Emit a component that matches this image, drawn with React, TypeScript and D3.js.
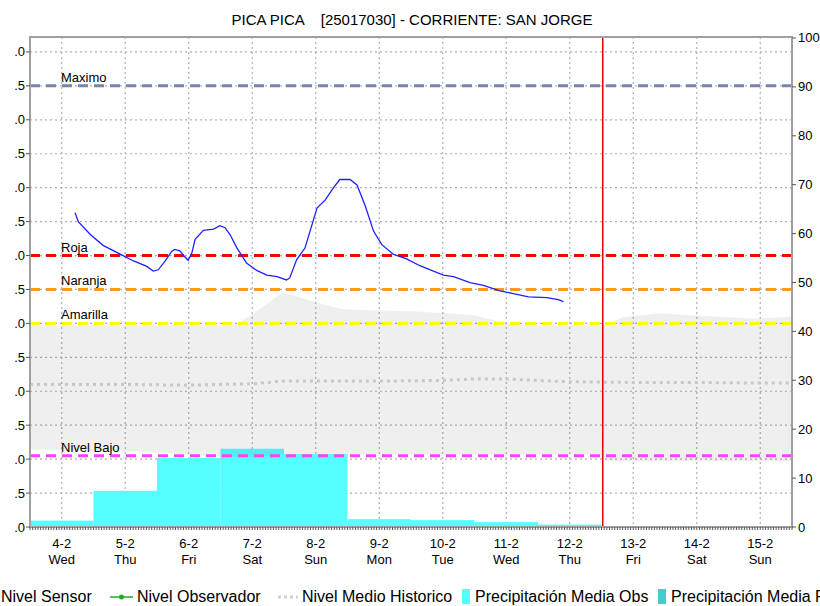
import React from "react";
import * as d3 from "d3";

const title = "PICA PICA    [25017030] - CORRIENTE: SAN JORGE";
const dayTicks = [4, 5, 6, 7, 8, 9, 10, 11, 12, 13, 14, 15];
const dayLabels = ["4-2", "5-2", "6-2", "7-2", "8-2", "9-2", "10-2", "11-2", "12-2", "13-2", "14-2", "15-2"];
const weekdayLabels = ["Wed", "Thu", "Fri", "Sat", "Sun", "Mon", "Tue", "Wed", "Thu", "Fri", "Sat", "Sun"];
const levelTicks = [0, 0.5, 1, 1.5, 2, 2.5, 3, 3.5, 4, 4.5, 5, 5.5, 6, 6.5, 7];
const precipTicks = [0, 10, 20, 30, 40, 50, 60, 70, 80, 90, 100];

const sensorDays = [4.21, 4.26, 4.45, 4.65, 4.92, 5.13, 5.34, 5.44, 5.52, 5.63, 5.73, 5.78, 5.86, 5.93, 5.99, 6.05, 6.1, 6.23, 6.39, 6.49, 6.57, 6.65, 6.76, 6.91, 7.07, 7.23, 7.39, 7.54, 7.59, 7.7, 7.83, 8.02, 8.15, 8.28, 8.38, 8.54, 8.65, 8.78, 8.91, 9.04, 9.22, 9.43, 9.64, 10.01, 10.17, 10.43, 10.64, 10.9, 11.11, 11.35, 11.64, 11.82, 11.9];
const sensorLevels = [4.63, 4.5, 4.31, 4.15, 4.02, 3.92, 3.84, 3.77, 3.79, 3.92, 4.06, 4.09, 4.07, 3.99, 3.93, 4.04, 4.24, 4.37, 4.39, 4.44, 4.41, 4.31, 4.11, 3.89, 3.78, 3.71, 3.69, 3.64, 3.67, 3.94, 4.11, 4.7, 4.82, 5.0, 5.12, 5.12, 5.04, 4.73, 4.36, 4.16, 4.02, 3.95, 3.85, 3.71, 3.69, 3.6, 3.56, 3.48, 3.44, 3.39, 3.38, 3.35, 3.32];

const precipDays = [4, 5, 6, 7, 8, 9, 10, 11, 12];
const precipValues = [1.3, 7.4, 14.1, 16.0, 14.9, 1.6, 1.4, 1.0, 0.5];

const bandDays = [3.5, 4.5, 5.5, 6.5, 6.7, 7.0, 7.48, 8.0, 8.43, 9.0, 9.5, 10.07, 10.5, 10.74, 11.06, 11.5, 12.5, 12.6, 12.84, 13.42, 13.89, 14.52, 14.95, 15.5];
const bandHigh = [2.97, 2.97, 2.97, 2.97, 2.96, 3.13, 3.46, 3.31, 3.21, 3.19, 3.18, 3.15, 3.12, 3.06, 2.99, 2.97, 2.97, 2.99, 3.09, 3.15, 3.12, 3.09, 3.07, 3.1];
const bandLow = [1.15, 1.12, 1.1, 1.03, 1.03, 1.03, 1.07, 1.07, 1.07, 1.07, 1.07, 1.07, 1.07, 1.07, 1.07, 1.07, 1.07, 0.97, 0.97, 0.97, 0.97, 0.97, 0.97, 0.97];

const histDays = [3.5, 4, 5, 6, 7, 7.5, 8, 9, 10, 10.5, 11, 11.5, 12, 13, 14, 15, 15.5];
const histLevels = [2.1, 2.1, 2.1, 2.09, 2.11, 2.15, 2.15, 2.15, 2.16, 2.18, 2.18, 2.16, 2.14, 2.13, 2.13, 2.12, 2.12];

const thresholdNames = ["Maximo", "Roja", "Naranja", "Amarilla", "Nivel Bajo"];
const thresholdLevels = [6.5, 4.0, 3.5, 3.0, 1.05];
const thresholdColors = ["#7885a8", "#ff0000", "#ff9a1a", "#ffff00", "#ff40ff"];

const nowDay = 12.52;

const legendLabels = ["Nivel Sensor", "Nivel Observador", "Nivel Medio Historico", "Precipitación Media Obs", "Precipitación Media Pronosticada"];

const W = 820;
const H = 606;
const plotLeft = 30;
const plotRight = 792;
const plotTop = 37;
const plotBottom = 527;
const FONT = "'Liberation Sans', Arial, sans-serif";

export default function App() {
  const x = d3.scaleLinear().domain([3.5, 15.5]).range([plotLeft, plotRight]);
  const yL = d3.scaleLinear().domain([0, 7.22]).range([plotBottom, plotTop]);
  const yR = d3.scaleLinear().domain([0, 100.2]).range([plotBottom, plotTop]);

  const sensorLine = d3
    .line<number>()
    .x((_, i) => x(sensorDays[i]))
    .y((d) => yL(d))(sensorLevels) as string;

  const bandArea = d3
    .area<number>()
    .x((d) => x(d))
    .y0((_, i) => yL(bandLow[i]))
    .y1((_, i) => yL(bandHigh[i]))(bandDays) as string;

  const histLine = d3
    .line<number>()
    .x((_, i) => x(histDays[i]))
    .y((d) => yL(d))(histLevels) as string;

  const hourTicks = d3.range(3.5 * 24, 15.5 * 24 + 1).map((h) => h / 24);

  return (
    <div style={{ position: "fixed", left: 0, top: 0 }}>
      <svg width={W} height={H} style={{ display: "block", background: "#fff" }} fontFamily={FONT}>
        <defs>
          <clipPath id="leftLabelClip">
            <rect x={15} y={0} width={20} height={H} />
          </clipPath>
          <clipPath id="plotClip">
            <rect x={plotLeft} y={plotTop} width={plotRight - plotLeft} height={plotBottom - plotTop} />
          </clipPath>
        </defs>

        {/* title */}
        <text x={412} y={25} textAnchor="middle" fontSize={15} fill="#000" style={{ whiteSpace: "pre" }}>
          {title}
        </text>

        {/* gridlines */}
        <g stroke="#b0b0b0" strokeWidth={1.2} strokeDasharray="2,3">
          {levelTicks.map((t) => (
            <line key={"h" + t} x1={plotLeft} x2={plotRight} y1={yL(t)} y2={yL(t)} />
          ))}
          {dayTicks.map((t) => (
            <line key={"v" + t} x1={x(t)} x2={x(t)} y1={plotTop} y2={plotBottom} />
          ))}
        </g>

        <g clipPath="url(#plotClip)">
          {/* precipitation bars */}
          {precipDays.map((d, i) => (
            <rect
              key={"p" + d}
              x={x(d - 0.5)}
              width={x(d + 0.5) - x(d - 0.5)}
              y={yR(precipValues[i])}
              height={plotBottom - yR(precipValues[i])}
              fill="#55ffff"
            />
          ))}

          {/* historic band */}
          <path d={bandArea} fill="#000" fillOpacity={0.063} />

          {/* historic mean */}
          <path d={histLine} fill="none" stroke="#c8c8c8" strokeWidth={3} strokeDasharray="3,4" />

          {/* thresholds */}
          {thresholdLevels.map((v, i) => (
            <line
              key={"t" + i}
              x1={plotLeft}
              x2={plotRight}
              y1={yL(v)}
              y2={yL(v)}
              stroke={thresholdColors[i]}
              strokeWidth={3}
              strokeDasharray="10,6"
            />
          ))}
          {thresholdNames.map((n, i) => (
            <text key={"tn" + i} x={61} y={yL(thresholdLevels[i]) - 4} fontSize={13} fill="#000">
              {n}
            </text>
          ))}

          {/* sensor line */}
          <path d={sensorLine} fill="none" stroke="#2020ff" strokeWidth={1.3} />
        </g>

        {/* now line */}
        <line x1={x(nowDay)} x2={x(nowDay)} y1={plotTop} y2={plotBottom} stroke="#e00000" strokeWidth={1.5} />

        {/* frame */}
        <rect
          x={plotLeft}
          y={plotTop}
          width={plotRight - plotLeft}
          height={plotBottom - plotTop}
          fill="none"
          stroke="#a0a0a0"
          strokeWidth={2}
        />

        {/* bottom minor ticks */}
        <g stroke="#555" strokeWidth={1}>
          {hourTicks.map((h, i) => (
            <line key={"m" + i} x1={x(h)} x2={x(h)} y1={plotBottom} y2={plotBottom + 3} />
          ))}
        </g>

        {/* left axis */}
        <g clipPath="url(#leftLabelClip)">
          {levelTicks.map((t) => (
            <text key={"lt" + t} x={25} y={yL(t) + 4.5} textAnchor="end" fontSize={13} fill="#000">
              {t.toFixed(1)}
            </text>
          ))}
        </g>
        <g stroke="#555" strokeWidth={1}>
          {levelTicks.map((t) => (
            <line key={"ltk" + t} x1={plotLeft - 4} x2={plotLeft} y1={yL(t)} y2={yL(t)} />
          ))}
          {precipTicks.map((t) => (
            <line key={"rtk" + t} x1={plotRight} x2={plotRight + 4} y1={yR(t)} y2={yR(t)} />
          ))}
        </g>

        {/* right axis labels */}
        {precipTicks.map((t) => (
          <text key={"rt" + t} x={798} y={yR(t) + 4.5} fontSize={13} fill="#000">
            {t}
          </text>
        ))}

        {/* x axis labels */}
        {dayTicks.map((d, i) => (
          <g key={"xl" + d}>
            <text x={x(d)} y={548} textAnchor="middle" fontSize={13} fill="#000">
              {dayLabels[i]}
            </text>
            <text x={x(d)} y={564} textAnchor="middle" fontSize={13} fill="#000">
              {weekdayLabels[i]}
            </text>
          </g>
        ))}

        {/* legend */}
        <g fontSize={16} fill="#000">
          <line x1={-30} x2={-8} y1={597} y2={597} stroke="#2020ff" strokeWidth={1.5} />
          <text x={1} y={602}>{legendLabels[0]}</text>
          <line x1={110} x2={133} y1={597} y2={597} stroke="#22aa22" strokeWidth={1.5} />
          <circle cx={121.5} cy={597} r={2.5} fill="#22aa22" />
          <text x={137} y={602}>{legendLabels[1]}</text>
          <line x1={278} x2={298} y1={597} y2={597} stroke="#d0d0d0" strokeWidth={3} strokeDasharray="3,3" />
          <text x={302} y={602}>{legendLabels[2]}</text>
          <rect x={462} y={589} width={8} height={15} fill="#55ffff" />
          <text x={475} y={602}>{legendLabels[3]}</text>
          <rect x={658} y={589} width={8} height={15} fill="#44cccc" />
          <text x={671} y={602}>{legendLabels[4]}</text>
        </g>
      </svg>
    </div>
  );
}
